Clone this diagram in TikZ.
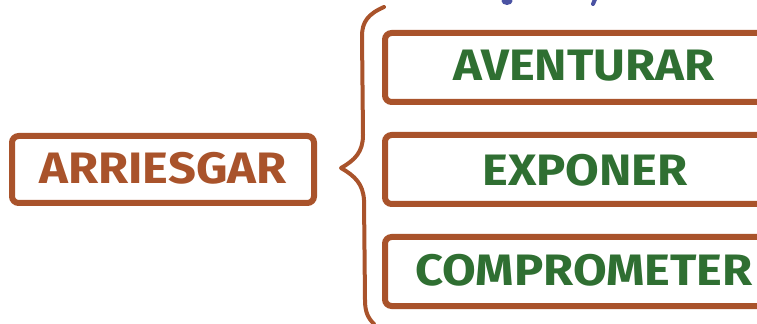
\documentclass[tikz,border=0pt]{standalone}
\usepackage{fontspec}
\setmainfont{Fira Sans}
\newfontfamily\boxfont{Fira Sans}[FakeStretch=1.11]
\definecolor{brn}{HTML}{A9532B}
\definecolor{grn}{HTML}{2F6F32}
\definecolor{prp}{HTML}{4B53A3}
\begin{document}
\begin{tikzpicture}[x=0.75pt,y=-0.75pt,
  box/.style={draw=brn, line width=4.5pt, rounded corners=5pt, fill=white, inner sep=0pt},
  lefttxt/.style={text=brn, font=\boxfont\fontsize{33}{36}\selectfont\bfseries},
  righttxt/.style={text=grn, font=\boxfont\fontsize{33}{36}\selectfont\bfseries},
  brace/.style={draw=brn, line width=3pt, line cap=round, line join=round}]
\useasboundingbox (0,0) rectangle (757,324);
\clip (0,0) rectangle (757,324);
% purple fragments of clipped heading
\fill[prp] (507,1) ellipse [x radius=5.5, y radius=4];
\draw[prp, line width=3pt, line cap=round] (596,-3) -- (593,4);
% left box
\node[box, minimum width=226.5pt, minimum height=50.25pt] (arr) at (163,169.5) {};
\node[lefttxt] (arrt) at (163,168.5) {ARRIESGAR};
% right boxes
\node[box, minimum width=297.75pt, minimum height=51.75pt] (b1) at (583.5,67.5) {};
\node[box, minimum width=297.75pt, minimum height=51.75pt] (b2) at (583.5,169.5) {};
\node[box, minimum width=297.75pt, minimum height=51.75pt] (b3) at (583.5,271.5) {};
\node[righttxt] (t1) at (584,65.5) {AVENTURAR};
\node[righttxt] (t2) at (585,170) {EXPONER};
\node[righttxt] (t3) at (584,270.5) {COMPROMETER};
% brace
\coordinate (tip) at (341,168);
\draw[brace] (384,7) .. controls (368,14) and (362,22) .. (362,36)
  -- (363,135) .. controls (363,152) and (355,160) .. (tip)
  .. controls (355,176) and (363,184) .. (364,200)
  -- (365,300) .. controls (365,312) and (368,318) .. (374,324);
\end{tikzpicture}
\end{document}
